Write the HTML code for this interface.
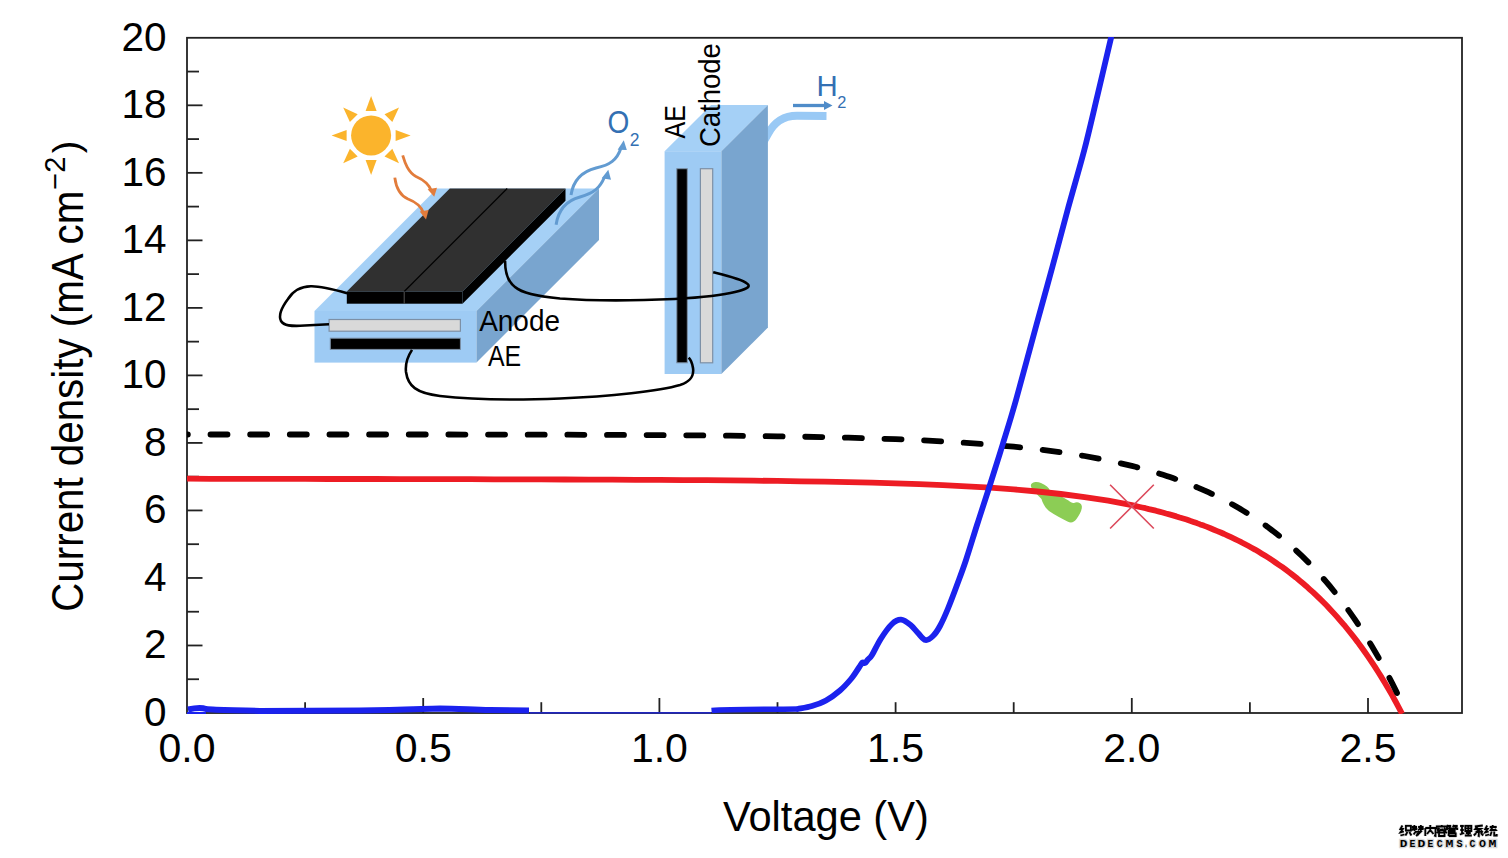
<!DOCTYPE html>
<html><head><meta charset="utf-8"><style>
html,body{margin:0;padding:0;background:#fff;overflow:hidden}
svg{display:block;font-family:"Liberation Sans",sans-serif}
</style></head><body>
<svg width="1508" height="858" viewBox="0 0 1508 858">
<rect width="1508" height="858" fill="#fff"/>
<g id="inset"><polygon points="314.5,311 476.5,311 599,188.5 437,188.5" fill="#a5d0f6"/>
<rect x="314.5" y="311" width="162" height="51.6" fill="#9ecbf4"/>
<polygon points="476.5,311 599,188.5 599,240.1 476.5,362.6" fill="#79a5cf"/>
<polygon points="346.8,291.5 462.5,291.5 565.5,188.5 449.8,188.5" fill="#303030"/>
<line x1="404.2" y1="291.5" x2="507.2" y2="188.5" stroke="#000" stroke-width="1.2"/>
<polygon points="462.5,291.5 565.5,188.5 565.5,200.7 462.5,303.7" fill="#000"/>
<rect x="346.8" y="291.5" width="115.7" height="12.2" fill="#000"/>
<line x1="404.2" y1="291.5" x2="404.2" y2="303.7" stroke="#555" stroke-width="1"/>
<rect x="329.1" y="319.5" width="131.3" height="11.7" fill="#d9d9d9" stroke="#7d90a6" stroke-width="1.2"/>
<rect x="330.3" y="338.2" width="130.1" height="11.2" fill="#000" stroke="#7d90a6" stroke-width="1"/>
<path d="M760 148 L767.9 134 C774 123 782 115.8 797 115.8 L826.5 116" fill="none" stroke="#99c9f5" stroke-width="8"/>
<polygon points="664.6,151.2 721.4,151.2 767.9,104.9 711.1,104.9" fill="#a5d0f6"/>
<rect x="664.6" y="151.2" width="56.8" height="222.8" fill="#9ecbf4"/>
<polygon points="721.4,151.2 767.9,104.9 767.9,327.5 721.4,374" fill="#79a5cf"/>
<rect x="676.8" y="168.7" width="10.5" height="194.1" fill="#000" stroke="#7d90a6" stroke-width="1"/>
<rect x="700.4" y="168.7" width="12.3" height="194.1" fill="#d9d9d9" stroke="#7d90a6" stroke-width="1.2"/>
<circle cx="371.1" cy="135.4" r="20" fill="#fbb42c"/>
<polygon points="371.1,95.9 376.6,110.9 365.6,110.9" fill="#fbb42c"/>
<polygon points="399.0,107.5 392.3,122.0 384.5,114.2" fill="#fbb42c"/>
<polygon points="410.6,135.4 395.6,140.9 395.6,129.9" fill="#fbb42c"/>
<polygon points="399.0,163.3 384.5,156.6 392.3,148.8" fill="#fbb42c"/>
<polygon points="371.1,174.9 365.6,159.9 376.6,159.9" fill="#fbb42c"/>
<polygon points="343.2,163.3 349.9,148.8 357.7,156.6" fill="#fbb42c"/>
<polygon points="331.6,135.4 346.6,129.9 346.6,140.9" fill="#fbb42c"/>
<polygon points="343.2,107.5 357.7,114.2 349.9,122.0" fill="#fbb42c"/>
<path d="M402.7 155.3 C405 163 408 172 416 176.5 C424 180 429 184 431.5 191" fill="none" stroke="#e27c3b" stroke-width="2.8"/>
<polygon points="427.6,189.3 437,187.8 434.2,196.8" fill="#e27c3b"/>
<path d="M394.8 177.6 C396 187 399 195 408 199 C416 202 421 206 423.6 213" fill="none" stroke="#e27c3b" stroke-width="2.8"/>
<polygon points="419.7,211.6 428.6,210 426,219.6" fill="#e27c3b"/>
<path d="M571 195 C573 182 580 172 596 168 C610 165 617 160 621 148" fill="none" stroke="#629bd1" stroke-width="3"/>
<polygon points="623.8,140.3 617.6,149.8 626.8,150" fill="#629bd1"/>
<path d="M556.1 224.7 C558 212 565 201 580 197 C594 193 600 188 604.5 177" fill="none" stroke="#629bd1" stroke-width="3"/>
<polygon points="608.3,169.8 601.7,178.2 611,179.8" fill="#629bd1"/>
<line x1="793" y1="105.5" x2="825" y2="105.5" stroke="#4f8cc9" stroke-width="3.3"/>
<polygon points="824,101 832.5,105.5 824,110" fill="#4f8cc9"/>
<path d="M347.1 293.2 C332 289 320 286 310.8 286.3 C300 286.6 293 291 288 299 C282 307 278 315 281 321 C284 326 292 326 300 325.8 L329 324.3" stroke="#000" stroke-width="2.6" fill="none"/>
<path d="M505.1 260.7 C505 270 507 281 515 287 C522 293 535 296 560 298.5 C590 300.8 640 300.5 674.5 299 C700 297.5 720 296 735 292 C745 289.5 752 287 747 283.5 C741 279 728 276 713.2 272.3" stroke="#000" stroke-width="2.6" fill="none"/>
<path d="M412 349.9 C408 356 405 363 406 372 C408 386 416 393 440 396 C470 399.5 520 400 560 398.5 C610 396.5 660 391 680 385 C692 381 694 375 693 368 C692 362 690 359 688.7 357.7" stroke="#000" stroke-width="2.6" fill="none"/>
<text x="479.2" y="331" font-size="29.8" textLength="80.8" lengthAdjust="spacingAndGlyphs">Anode</text>
<text x="487.9" y="366" font-size="29.8" textLength="33.2" lengthAdjust="spacingAndGlyphs">AE</text>
<text transform="translate(685.1,138.4) rotate(-90)" font-size="30" textLength="33.4" lengthAdjust="spacingAndGlyphs">AE</text>
<text transform="translate(720,147.1) rotate(-90)" font-size="30" textLength="104" lengthAdjust="spacingAndGlyphs">Cathode</text>
<g fill="#3370b3"><text x="607.5" y="133" font-size="31.5" textLength="21.8" lengthAdjust="spacingAndGlyphs">O</text><text x="629.8" y="145.5" font-size="17.5">2</text>
<text x="816.5" y="95.8" font-size="29.4">H</text><text x="837.3" y="108" font-size="16.4">2</text></g></g>
<g stroke="#222" stroke-width="1.8" fill="none">
<rect x="187" y="37.8" width="1275" height="675.2"/>
<line x1="187" y1="679.24" x2="199.00" y2="679.24"/>
<line x1="187" y1="645.48" x2="202.50" y2="645.48"/>
<line x1="187" y1="611.72" x2="199.00" y2="611.72"/>
<line x1="187" y1="577.96" x2="202.50" y2="577.96"/>
<line x1="187" y1="544.20" x2="199.00" y2="544.20"/>
<line x1="187" y1="510.44" x2="202.50" y2="510.44"/>
<line x1="187" y1="476.68" x2="199.00" y2="476.68"/>
<line x1="187" y1="442.92" x2="202.50" y2="442.92"/>
<line x1="187" y1="409.16" x2="199.00" y2="409.16"/>
<line x1="187" y1="375.40" x2="202.50" y2="375.40"/>
<line x1="187" y1="341.64" x2="199.00" y2="341.64"/>
<line x1="187" y1="307.88" x2="202.50" y2="307.88"/>
<line x1="187" y1="274.12" x2="199.00" y2="274.12"/>
<line x1="187" y1="240.36" x2="202.50" y2="240.36"/>
<line x1="187" y1="206.60" x2="199.00" y2="206.60"/>
<line x1="187" y1="172.84" x2="202.50" y2="172.84"/>
<line x1="187" y1="139.08" x2="199.00" y2="139.08"/>
<line x1="187" y1="105.32" x2="202.50" y2="105.32"/>
<line x1="187" y1="71.56" x2="199.00" y2="71.56"/>
<line x1="305.10" y1="713" x2="305.10" y2="702.20"/>
<line x1="423.20" y1="713" x2="423.20" y2="698.00"/>
<line x1="541.30" y1="713" x2="541.30" y2="702.20"/>
<line x1="659.40" y1="713" x2="659.40" y2="698.00"/>
<line x1="777.50" y1="713" x2="777.50" y2="702.20"/>
<line x1="895.60" y1="713" x2="895.60" y2="702.20"/>
<line x1="1013.70" y1="713" x2="1013.70" y2="702.20"/>
<line x1="1131.80" y1="713" x2="1131.80" y2="698.00"/>
<line x1="1249.90" y1="713" x2="1249.90" y2="702.20"/>
<line x1="1368.00" y1="713" x2="1368.00" y2="698.00"/>
</g>
<defs><clipPath id="pc"><rect x="187" y="37" width="1275" height="677"/></clipPath></defs>
<g fill="none" stroke-linejoin="round" clip-path="url(#pc)">
<path d="M1031 486.5 C1030 482.5 1036 481 1041 483 C1046 485 1049 488 1050 490.5 C1056 494 1063 497 1068.5 500.5 C1070.5 502 1072.5 503.5 1074 503 C1077 501.5 1081 502.5 1081.8 506 C1082.3 510 1079.5 515 1076.5 519 C1074 522.5 1071 523.5 1067.5 521.5 C1062 518.5 1055 515.5 1049 511 C1045 507.5 1042.5 503 1041.5 499 C1038 495 1032 490.5 1031 486.5 Z" fill="#8ccd55"/>
<path d="M187.0 477.9 L210.6 478.0 L234.2 478.0 L257.9 478.0 L281.5 478.1 L305.1 478.1 L328.7 478.2 L352.3 478.2 L376.0 478.2 L399.6 478.3 L423.2 478.3 L446.8 478.4 L470.4 478.4 L494.1 478.5 L517.7 478.6 L541.3 478.6 L564.9 478.7 L588.5 478.8 L612.2 478.9 L635.8 479.0 L659.4 479.1 L683.0 479.3 L706.6 479.4 L730.3 479.6 L753.9 479.9 L777.5 480.1 L801.1 480.5 L824.7 480.9 L848.4 481.3 L872.0 481.9 L895.6 482.5 L919.2 483.3 L942.8 484.3 L966.5 485.5 L990.1 486.9 L1013.7 488.6 L1037.3 490.7 L1060.9 493.2 L1084.6 496.3 L1108.2 499.9 L1131.8 504.4 L1135.2 505.1 L1138.6 505.9 L1142.1 506.7 L1145.5 507.4 L1148.9 508.3 L1152.3 509.1 L1155.8 509.9 L1159.2 510.8 L1162.6 511.7 L1166.0 512.7 L1169.4 513.6 L1172.9 514.6 L1176.3 515.6 L1179.7 516.7 L1183.1 517.7 L1186.6 518.8 L1190.0 520.0 L1193.4 521.1 L1196.8 522.3 L1200.2 523.6 L1203.7 524.8 L1207.1 526.1 L1210.5 527.5 L1213.9 528.9 L1217.3 530.3 L1220.8 531.7 L1224.2 533.2 L1227.6 534.8 L1231.0 536.4 L1234.5 538.0 L1237.9 539.7 L1241.3 541.4 L1244.7 543.2 L1248.1 545.0 L1251.6 546.9 L1255.0 548.8 L1258.4 550.8 L1261.8 552.9 L1265.3 555.0 L1268.7 557.1 L1272.1 559.4 L1275.5 561.7 L1278.9 564.0 L1282.4 566.4 L1285.8 568.9 L1289.2 571.5 L1292.6 574.1 L1296.1 576.8 L1299.5 579.6 L1302.9 582.5 L1306.3 585.4 L1309.7 588.5 L1313.2 591.6 L1316.6 594.8 L1320.0 598.1 L1323.4 601.5 L1326.9 605.0 L1330.3 608.6 L1333.7 612.3 L1337.1 616.1 L1340.5 620.0 L1344.0 624.0 L1347.4 628.2 L1350.8 632.4 L1354.2 636.8 L1357.7 641.3 L1361.1 645.9 L1364.5 650.7 L1367.9 655.6 L1371.3 660.6 L1374.8 665.8 L1378.2 671.2 L1381.6 676.6 L1385.0 682.3 L1388.4 688.1 L1391.9 694.1 L1395.3 700.2 L1398.7 706.5 L1402.1 713.0" stroke="#ed1c24" stroke-width="5.8" transform="translate(0,0.8)"/>
<path d="M1110.1 484.8 L1153.8 528.5 M1153.8 484.8 L1110.1 528.5" stroke="#dc4a5c" stroke-width="1.6"/>
<path d="M187.0 434.5 L210.6 434.5 L234.2 434.5 L257.9 434.5 L281.5 434.5 L305.1 434.5 L328.7 434.5 L352.3 434.5 L376.0 434.5 L399.6 434.5 L423.2 434.5 L446.8 434.5 L470.4 434.6 L494.1 434.6 L517.7 434.6 L541.3 434.7 L564.9 434.7 L588.5 434.8 L612.2 434.9 L635.8 435.0 L659.4 435.1 L683.0 435.3 L706.6 435.5 L730.3 435.7 L753.9 436.0 L777.5 436.3 L801.1 436.7 L824.7 437.1 L848.4 437.7 L872.0 438.4 L895.6 439.2 L919.2 440.2 L942.8 441.4 L966.5 442.9 L990.1 444.6 L1013.7 446.7 L1037.3 449.3 L1060.9 452.3 L1084.6 456.0 L1108.2 460.5 L1131.8 465.9 L1135.3 466.8 L1138.8 467.7 L1142.2 468.6 L1145.7 469.6 L1149.2 470.5 L1152.7 471.6 L1156.1 472.6 L1159.6 473.7 L1163.1 474.8 L1166.6 475.9 L1170.0 477.1 L1173.5 478.3 L1177.0 479.5 L1180.5 480.7 L1183.9 482.0 L1187.4 483.4 L1190.9 484.7 L1194.4 486.2 L1197.8 487.6 L1201.3 489.1 L1204.8 490.6 L1208.3 492.2 L1211.7 493.8 L1215.2 495.5 L1218.7 497.2 L1222.2 498.9 L1225.7 500.8 L1229.1 502.6 L1232.6 504.5 L1236.1 506.5 L1239.6 508.5 L1243.0 510.6 L1246.5 512.7 L1250.0 514.9 L1253.5 517.1 L1256.9 519.5 L1260.4 521.8 L1263.9 524.3 L1267.4 526.8 L1270.8 529.4 L1274.3 532.0 L1277.8 534.8 L1281.3 537.6 L1284.7 540.5 L1288.2 543.4 L1291.7 546.5 L1295.2 549.6 L1298.6 552.9 L1302.1 556.2 L1305.6 559.6 L1309.1 563.1 L1312.6 566.7 L1316.0 570.4 L1319.5 574.2 L1323.0 578.1 L1326.5 582.1 L1329.9 586.2 L1333.4 590.5 L1336.9 594.9 L1340.4 599.3 L1343.8 604.0 L1347.3 608.7 L1350.8 613.6 L1354.3 618.6 L1357.7 623.7 L1361.2 629.0 L1364.7 634.5 L1368.2 640.1 L1371.6 645.8 L1375.1 651.7 L1378.6 657.8 L1382.1 664.1 L1385.5 670.5 L1389.0 677.1 L1392.5 683.9 L1396.0 690.9 L1399.4 698.0 L1402.9 705.4 L1406.4 713.0" stroke="#000" stroke-width="5.8" stroke-dasharray="17 22.65" stroke-dashoffset="16.15" stroke-linecap="round"/>
<path d="M798.0 709.0 C800.3 708.5 807.3 707.4 812.0 706.0 C816.7 704.6 821.3 703.1 826.0 700.5 C830.7 697.9 835.8 694.1 840.0 690.5 C844.2 686.9 847.8 682.8 851.0 679.0 C854.2 675.2 857.1 670.2 859.0 667.5 C860.9 664.8 861.5 663.2 862.5 662.5 C863.5 661.8 864.1 663.5 865.0 663.0 C865.9 662.5 866.8 660.8 868.0 659.5 C869.2 658.2 869.9 658.4 872.0 655.0 C874.1 651.6 877.4 644.2 880.7 639.0 C884.0 633.8 888.6 627.2 892.0 624.0 C895.4 620.8 897.9 619.5 901.0 619.7 C904.1 619.9 907.8 622.8 910.6 625.0 C913.4 627.2 915.5 630.5 918.0 633.0 C920.5 635.5 923.0 639.5 925.5 640.0 C928.0 640.5 930.6 638.3 933.0 636.0 C935.4 633.7 937.5 630.6 940.0 626.0 C942.5 621.4 945.2 615.3 948.0 608.5 C950.8 601.7 954.0 593.1 957.0 585.0 C960.0 576.9 962.7 570.0 966.0 560.0 C969.3 550.0 973.2 537.0 977.0 525.0 C980.8 513.0 984.8 501.3 989.0 488.0 C993.2 474.7 998.0 459.7 1002.5 445.0 C1007.0 430.3 1010.4 420.0 1016.0 400.0 C1021.6 380.0 1030.3 347.2 1036.4 325.0 C1042.5 302.8 1047.2 286.0 1052.5 266.6 C1057.8 247.2 1062.7 227.9 1068.0 208.5 C1073.3 189.1 1079.3 169.1 1084.3 150.0 C1089.3 130.9 1093.3 112.7 1097.8 94.0 C1102.2 75.3 1108.8 47.3 1111.0 38.0" stroke="#1b22ee" stroke-width="5.8" stroke-linecap="round"/>
<path d="M188 709.5 C195 708 202 707.5 206 709 C215 710 230 710 260 711 L360 710.5 C400 710 420 709 440 708.5 C455 708.5 470 709.5 490 710 L529 710.5" stroke="#1b22ee" stroke-width="6"/>
<path d="M187 713 L206 713" stroke="#1b22ee" stroke-width="2"/>
<path d="M530 712.8 L711 712.8" stroke="#1b22ee" stroke-width="1.2"/>
<path d="M711.5 710.5 C730 709 760 709.5 798 709" stroke="#1b22ee" stroke-width="5.5"/>
</g>
<g font-size="40.5" fill="#000" text-anchor="end"><text x="166.5" y="725.70">0</text><text x="166.5" y="658.18">2</text><text x="166.5" y="590.66">4</text><text x="166.5" y="523.14">6</text><text x="166.5" y="455.62">8</text><text x="166.5" y="388.10">10</text><text x="166.5" y="320.58">12</text><text x="166.5" y="253.06">14</text><text x="166.5" y="185.54">16</text><text x="166.5" y="118.02">18</text><text x="166.5" y="50.50">20</text></g>
<g font-size="41" fill="#000" text-anchor="middle"><text x="187.00" y="761.9">0.0</text><text x="423.20" y="761.9">0.5</text><text x="659.40" y="761.9">1.0</text><text x="895.60" y="761.9">1.5</text><text x="1131.80" y="761.9">2.0</text><text x="1368.00" y="761.9">2.5</text></g>
<text x="723" y="830.6" font-size="41.6">Voltage (V)</text>
<g transform="translate(83.2,611.7) rotate(-90)"><text x="0" y="0" font-size="43.5" textLength="421" lengthAdjust="spacingAndGlyphs">Current density (mA cm</text><text x="422" y="-17.9" font-size="29">−2</text><text x="458.5" y="-4" font-size="37" textLength="12.5" lengthAdjust="spacingAndGlyphs">)</text></g>
<g fill="none" stroke="#d8d8d8" stroke-width="3.4" stroke-linejoin="round"><path transform="translate(1399.9,825)" d="M2.5 0.5 L0.5 4 L3 4 L0.5 7.5 L4 6.5 M0.5 10.5 L4.5 9.5 M6 0.8 H11 V5.5 H6 Z M7.5 7 L5.5 10.5 M9.5 7 L11.5 10.5"/><path transform="translate(1411.6,825)" d="M0 2 H5.5 M2.75 0 V6 M2.5 2.5 L0 5.5 M3 2.5 L5.5 4.5 M6.5 2 H12 M9.25 0 V6 M9 2.5 L6.5 5.5 M9.5 2.5 L12 4.5 M4.5 6 L2 9.5 M4 6.8 H9 L4.5 11 M5 8.5 L7.5 9.8"/><path transform="translate(1424.5,825)" d="M0.8 3 V11 M0.8 3 H11 V11 L9.5 10.5 M5.75 0 V5 L2.5 9 M5.75 5 L9 9"/><path transform="translate(1436.0,825)" d="M5.75 0 V1.5 M0.8 4 V1.5 H11 V4 M3.5 3 L1 5.5 M8 3 L10.5 5.5 M5.75 4 L0.5 8 M5.75 4 L11 8 M3 7.5 H8.5 V11 H3 Z"/><path transform="translate(1446.2,825)" d="M2 0 L0.5 2 M1.5 1 H5 M3 1.5 L4 3 M8 0 L6.5 2 M7.5 1 H11.5 M9 1.5 L10 3 M0.8 5 V3.5 H11 V5 M2.5 5 V11 M2.5 5.5 H8.5 V7.5 H2.5 M2.5 8.5 H9.5 V11 H2.5"/><path transform="translate(1459.8,825)" d="M0.3 1 H4 M2.2 1 V9 M0.5 5 H4 M0 9.5 L4.5 8 M5.5 0.8 H11.5 V6 H5.5 Z M5.5 3.3 H11.5 M8.5 0.8 V10.5 M6 8 H11 M5 10.5 H12"/><path transform="translate(1472.8,825)" d="M10 0.5 L2 1.5 M5 1.5 L2.5 4 L8 4 L3 7 L9 6.5 M8 5.5 L10 7.5 M6 7 V11 L5 10.5 M3.5 8 L1 10.5 M8 8 L10.5 10.5"/><path transform="translate(1484.7,825)" d="M2.5 0.5 L0.5 4 L3 4 L0.5 7.5 L4 6.5 M0.5 10.5 L4.5 9.5 M8 0 V1.5 M5 2 H12 M8 2 L6 5 L11 5 L10 4 M7 6.5 L5.5 11 M9.5 6.5 V10.5 H12 V9"/></g><g fill="none" stroke="#000" stroke-width="1.8"><path transform="translate(1399.9,825)" d="M2.5 0.5 L0.5 4 L3 4 L0.5 7.5 L4 6.5 M0.5 10.5 L4.5 9.5 M6 0.8 H11 V5.5 H6 Z M7.5 7 L5.5 10.5 M9.5 7 L11.5 10.5"/><path transform="translate(1411.6,825)" d="M0 2 H5.5 M2.75 0 V6 M2.5 2.5 L0 5.5 M3 2.5 L5.5 4.5 M6.5 2 H12 M9.25 0 V6 M9 2.5 L6.5 5.5 M9.5 2.5 L12 4.5 M4.5 6 L2 9.5 M4 6.8 H9 L4.5 11 M5 8.5 L7.5 9.8"/><path transform="translate(1424.5,825)" d="M0.8 3 V11 M0.8 3 H11 V11 L9.5 10.5 M5.75 0 V5 L2.5 9 M5.75 5 L9 9"/><path transform="translate(1436.0,825)" d="M5.75 0 V1.5 M0.8 4 V1.5 H11 V4 M3.5 3 L1 5.5 M8 3 L10.5 5.5 M5.75 4 L0.5 8 M5.75 4 L11 8 M3 7.5 H8.5 V11 H3 Z"/><path transform="translate(1446.2,825)" d="M2 0 L0.5 2 M1.5 1 H5 M3 1.5 L4 3 M8 0 L6.5 2 M7.5 1 H11.5 M9 1.5 L10 3 M0.8 5 V3.5 H11 V5 M2.5 5 V11 M2.5 5.5 H8.5 V7.5 H2.5 M2.5 8.5 H9.5 V11 H2.5"/><path transform="translate(1459.8,825)" d="M0.3 1 H4 M2.2 1 V9 M0.5 5 H4 M0 9.5 L4.5 8 M5.5 0.8 H11.5 V6 H5.5 Z M5.5 3.3 H11.5 M8.5 0.8 V10.5 M6 8 H11 M5 10.5 H12"/><path transform="translate(1472.8,825)" d="M10 0.5 L2 1.5 M5 1.5 L2.5 4 L8 4 L3 7 L9 6.5 M8 5.5 L10 7.5 M6 7 V11 L5 10.5 M3.5 8 L1 10.5 M8 8 L10.5 10.5"/><path transform="translate(1484.7,825)" d="M2.5 0.5 L0.5 4 L3 4 L0.5 7.5 L4 6.5 M0.5 10.5 L4.5 9.5 M8 0 V1.5 M5 2 H12 M8 2 L6 5 L11 5 L10 4 M7 6.5 L5.5 11 M9.5 6.5 V10.5 H12 V9"/></g><g font-family="Liberation Mono" font-weight="bold" font-size="10.2" fill="#000" stroke="#d8d8d8" stroke-width="2.4" paint-order="stroke"><text x="1399.7" y="846.9" textLength="7.6" lengthAdjust="spacingAndGlyphs">D</text><text x="1409.6" y="846.9" textLength="5.9" lengthAdjust="spacingAndGlyphs">E</text><text x="1417.6" y="846.9" textLength="7.8" lengthAdjust="spacingAndGlyphs">D</text><text x="1427.6" y="846.9" textLength="5.8" lengthAdjust="spacingAndGlyphs">E</text><text x="1436.8" y="846.9" textLength="5.9" lengthAdjust="spacingAndGlyphs">C</text><text x="1445.6" y="846.9" textLength="7.9" lengthAdjust="spacingAndGlyphs">M</text><text x="1456.4" y="846.9" textLength="6.1" lengthAdjust="spacingAndGlyphs">S</text><text x="1464.6" y="846.9" textLength="3.0" lengthAdjust="spacingAndGlyphs">.</text><text x="1469.6" y="846.9" textLength="5.9" lengthAdjust="spacingAndGlyphs">C</text><text x="1478.9" y="846.9" textLength="7.0" lengthAdjust="spacingAndGlyphs">O</text><text x="1488.6" y="846.9" textLength="7.9" lengthAdjust="spacingAndGlyphs">M</text></g>
</svg>
</body></html>
